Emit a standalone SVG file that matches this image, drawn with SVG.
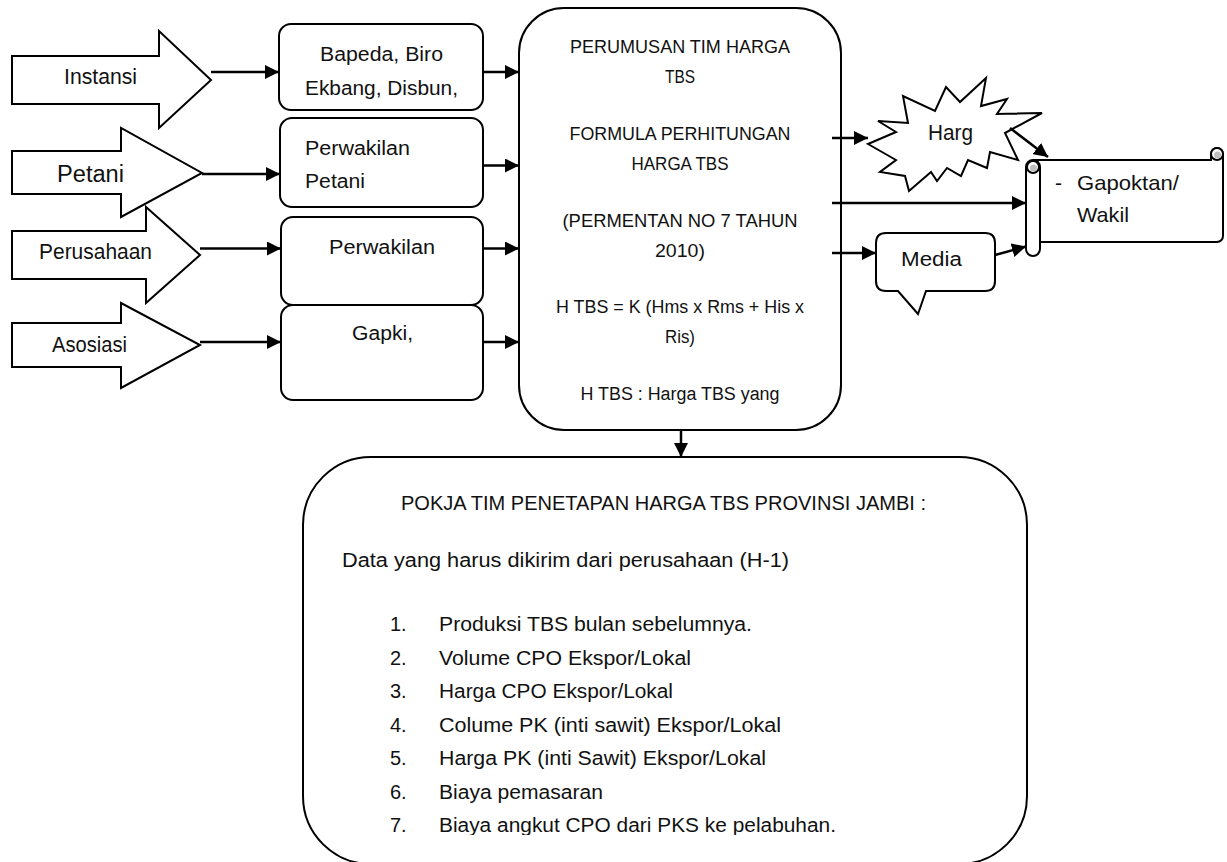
<svg xmlns="http://www.w3.org/2000/svg" width="1227" height="862" viewBox="0 0 1227 862">
<style>
.shape{fill:#fff;stroke:#000;stroke-width:2}
.conn{fill:none;stroke:#000;stroke-width:2.5}
text{font-family:"Liberation Sans",Arial,sans-serif;fill:#111}
.t18{font-size:18px}
.t20{font-size:20px}
.t21{font-size:21px}
.t22{font-size:22px}
.mid{text-anchor:middle}
</style>
<defs>
<marker id="ah" markerUnits="userSpaceOnUse" markerWidth="15" markerHeight="14" refX="14" refY="7" orient="auto">
<path d="M0,0 L14,7 L0,14 Z" fill="#000"/>
</marker>
<clipPath id="clipBottom"><rect x="0" y="0" width="1227" height="835"/></clipPath>
</defs>
<rect width="1227" height="862" fill="#fff"/>

<g id="arrow-instansi">
<polygon class="shape" points="12,56 159,56 159,31 211,80 159,128 159,104 12,104"/>
<text class="t22" x="64" y="84" textLength="73" lengthAdjust="spacingAndGlyphs">Instansi</text>
</g>
<g id="arrow-petani">
<polygon class="shape" points="12,151 121,151 121,128 202,173 121,217 121,194 12,194"/>
<text class="t22" x="57" y="182" textLength="67" lengthAdjust="spacingAndGlyphs" style="font-size:23.5px">Petani</text>
</g>
<g id="arrow-perusahaan">
<polygon class="shape" points="12,231 146,231 146,207 200,255 146,303 146,279 12,279"/>
<text class="t22" x="39" y="259" textLength="113" lengthAdjust="spacingAndGlyphs">Perusahaan</text>
</g>
<g id="arrow-asosiasi">
<polygon class="shape" points="12,323 121,323 121,303 200,345 121,388 121,367 12,367"/>
<text class="t22" x="52" y="352" textLength="75" lengthAdjust="spacingAndGlyphs">Asosiasi</text>
</g>

<g id="box-instansi">
<rect class="shape" x="279" y="24" width="204" height="86" rx="12"/>
<text class="t20" x="320" y="61" textLength="123" lengthAdjust="spacingAndGlyphs">Bapeda, Biro</text>
<text class="t20" x="305" y="95" textLength="153" lengthAdjust="spacingAndGlyphs">Ekbang, Disbun,</text>
</g>
<g id="box-petani">
<rect class="shape" x="280" y="118" width="203" height="89" rx="12"/>
<text class="t20" x="305" y="155" textLength="105" lengthAdjust="spacingAndGlyphs">Perwakilan</text>
<text class="t20" x="305" y="188" textLength="60" lengthAdjust="spacingAndGlyphs">Petani</text>
</g>
<g id="box-perusahaan">
<rect class="shape" x="281" y="217" width="202" height="88" rx="12"/>
<text class="t20" x="329" y="254" textLength="106" lengthAdjust="spacingAndGlyphs">Perwakilan</text>
</g>
<g id="box-asosiasi">
<rect class="shape" x="281" y="305" width="202" height="95" rx="12"/>
<text class="t20" x="352" y="340" textLength="61" lengthAdjust="spacingAndGlyphs">Gapki,</text>
</g>

<g id="box-perumusan">
<rect class="shape" x="519" y="8" width="322" height="422" rx="45"/>
<text class="t18 mid" x="680" y="53" textLength="220" lengthAdjust="spacingAndGlyphs">PERUMUSAN TIM HARGA</text>
<text class="t18 mid" x="680" y="83" textLength="30" lengthAdjust="spacingAndGlyphs">TBS</text>
<text class="t18 mid" x="680" y="140" textLength="221" lengthAdjust="spacingAndGlyphs">FORMULA PERHITUNGAN</text>
<text class="t18 mid" x="680" y="170" textLength="97" lengthAdjust="spacingAndGlyphs">HARGA TBS</text>
<text class="t18 mid" x="680" y="227" textLength="235" lengthAdjust="spacingAndGlyphs">(PERMENTAN NO 7 TAHUN</text>
<text class="t18 mid" x="680" y="257" textLength="50" lengthAdjust="spacingAndGlyphs">2010)</text>
<text class="t18 mid" x="680" y="313" textLength="248" lengthAdjust="spacingAndGlyphs">H TBS = K (Hms x Rms + His x</text>
<text class="t18 mid" x="680" y="343" textLength="30" lengthAdjust="spacingAndGlyphs">Ris)</text>
<text class="t18 mid" x="680" y="400" textLength="199" lengthAdjust="spacingAndGlyphs">H TBS : Harga TBS yang</text>
</g>

<g id="harga-burst">
<polygon class="shape" points="868,144 896,132 878,121 908,123 903,96 935,111 946,87 960,102 986,78 981,106 1007,99 997,114 1042,113 1005,133 1018,160 990,152 987,168 968,160 961,176 947,168 937,181 931,172 909,191 905,176 880,172 896,160"/>
<text class="t22" x="928" y="140" textLength="45" lengthAdjust="spacingAndGlyphs">Harg</text>
</g>

<g id="media-callout">
<path class="shape" d="M886,233 H985 Q995,233 995,243 V281 Q995,291 985,291 H926 L918,314 L898,291 H886 Q876,291 876,281 V243 Q876,233 886,233 Z"/>
<text class="t20" x="901" y="266" textLength="61" lengthAdjust="spacingAndGlyphs">Media</text>
</g>

<g id="gapoktan-scroll">
<path class="shape" d="M1033,160 H1211 V154 A6,6 0 0 1 1223,154 V236 A6,6 0 0 1 1217,242 H1039"/>
<circle cx="1217" cy="154" r="6" fill="#fff" stroke="#000" stroke-width="2"/>
<circle cx="1217.5" cy="155" r="3.5" fill="#bfbfbf"/>
<line x1="1211" y1="154" x2="1211" y2="160" stroke="#000" stroke-width="1.5"/>
<rect class="shape" x="1026" y="160" width="14" height="96" rx="7"/>
<circle cx="1033" cy="167" r="6" fill="#fff" stroke="#000" stroke-width="2"/>
<circle cx="1033.5" cy="168" r="3.5" fill="#bfbfbf"/>
<text class="t21" x="1055" y="190">-</text>
<text class="t21" x="1077" y="190" textLength="102" lengthAdjust="spacingAndGlyphs">Gapoktan/</text>
<text class="t21" x="1077" y="222" textLength="52" lengthAdjust="spacingAndGlyphs">Wakil</text>
</g>

<g id="box-pokja">
<rect class="shape" x="303" y="457" width="724" height="407" rx="68"/>
<text class="t20" x="401" y="510" textLength="525" lengthAdjust="spacingAndGlyphs">POKJA TIM PENETAPAN HARGA TBS PROVINSI JAMBI :</text>
<text class="t20" x="342" y="567" textLength="447" lengthAdjust="spacingAndGlyphs">Data yang harus dikirim dari perusahaan (H-1)</text>
<text class="t20" x="390" y="631">1.</text>
<text class="t20" x="439" y="631" textLength="313" lengthAdjust="spacingAndGlyphs">Produksi TBS bulan sebelumnya.</text>
<text class="t20" x="390" y="664.5">2.</text>
<text class="t20" x="439" y="664.5" textLength="252" lengthAdjust="spacingAndGlyphs">Volume CPO Ekspor/Lokal</text>
<text class="t20" x="390" y="698">3.</text>
<text class="t20" x="439" y="698" textLength="234" lengthAdjust="spacingAndGlyphs">Harga CPO Ekspor/Lokal</text>
<text class="t20" x="390" y="731.5">4.</text>
<text class="t20" x="439" y="731.5" textLength="342" lengthAdjust="spacingAndGlyphs">Colume PK (inti sawit) Ekspor/Lokal</text>
<text class="t20" x="390" y="765">5.</text>
<text class="t20" x="439" y="765" textLength="327" lengthAdjust="spacingAndGlyphs">Harga PK (inti Sawit) Ekspor/Lokal</text>
<text class="t20" x="390" y="798.5">6.</text>
<text class="t20" x="439" y="798.5" textLength="164" lengthAdjust="spacingAndGlyphs">Biaya pemasaran</text>
<text class="t20" x="390" y="832">7.</text>
<text class="t20" x="439" y="832" textLength="397" lengthAdjust="spacingAndGlyphs" clip-path="url(#clipBottom)">Biaya angkut CPO dari PKS ke pelabuhan.</text>
</g>

<g id="connectors">
<line class="conn" x1="211" y1="72" x2="279" y2="72" marker-end="url(#ah)"/>
<line class="conn" x1="202" y1="174" x2="280" y2="174" marker-end="url(#ah)"/>
<line class="conn" x1="200" y1="248.5" x2="281" y2="248.5" marker-end="url(#ah)"/>
<line class="conn" x1="200" y1="342" x2="281" y2="342" marker-end="url(#ah)"/>
<line class="conn" x1="483" y1="72" x2="519" y2="72" marker-end="url(#ah)"/>
<line class="conn" x1="483" y1="165.5" x2="519" y2="165.5" marker-end="url(#ah)"/>
<line class="conn" x1="483" y1="248.5" x2="519" y2="248.5" marker-end="url(#ah)"/>
<line class="conn" x1="483" y1="342" x2="519" y2="342" marker-end="url(#ah)"/>
<line class="conn" x1="832" y1="138" x2="868" y2="138" marker-end="url(#ah)"/>
<line class="conn" x1="832" y1="203" x2="1026" y2="203" marker-end="url(#ah)"/>
<line class="conn" x1="832" y1="253" x2="876" y2="253" marker-end="url(#ah)"/>
<line class="conn" x1="1010" y1="128" x2="1048" y2="157" marker-end="url(#ah)"/>
<line class="conn" x1="995" y1="255" x2="1026" y2="246.5" marker-end="url(#ah)"/>
<line class="conn" x1="681" y1="430" x2="681" y2="457" marker-end="url(#ah)"/>
</g>
</svg>
